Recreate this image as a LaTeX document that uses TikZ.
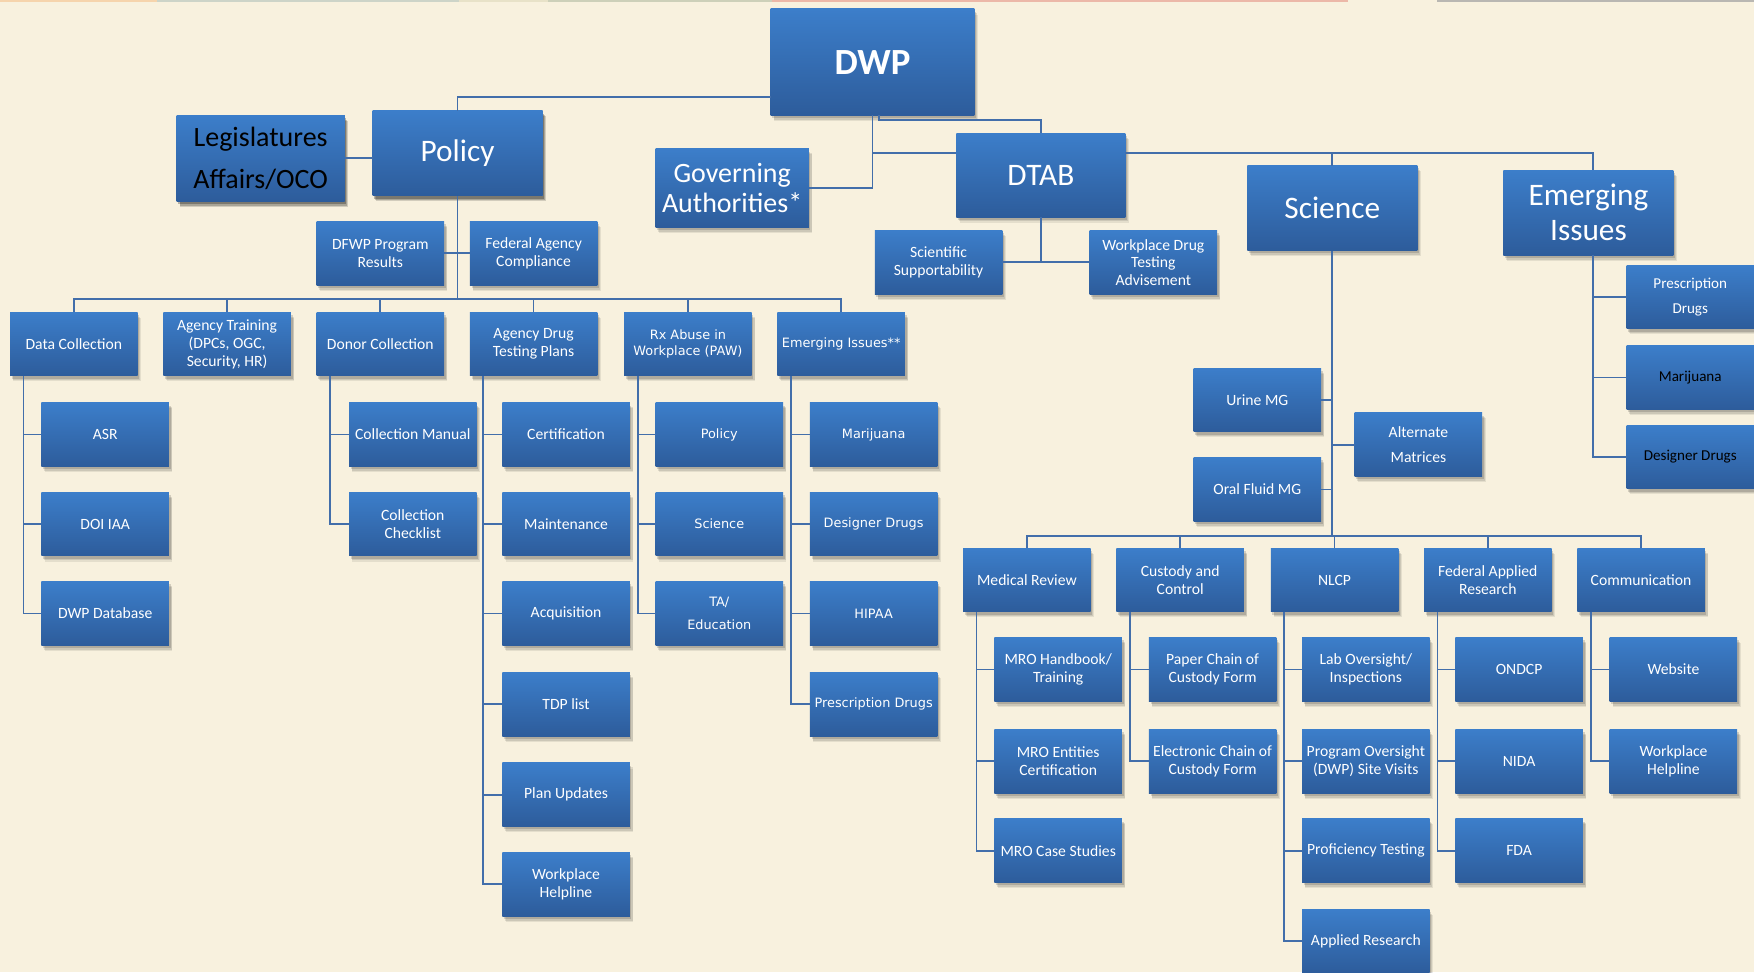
\documentclass[tikz,border=0pt]{standalone}
\usepackage{fontspec}
\setmainfont{Carlito}
\newfontfamily\vfont{DejaVu Sans}
\usetikzlibrary{shadows}
\definecolor{bgc}{RGB}{248,241,222}
\definecolor{btop}{RGB}{60,126,202}
\definecolor{bbot}{RGB}{45,92,155}
\definecolor{bflat}{RGB}{74,126,187}
\definecolor{lnc}{RGB}{66,110,170}
\definecolor{sa}{RGB}{246,212,172}
\definecolor{sb}{RGB}{205,212,200}
\definecolor{sc}{RGB}{232,226,200}
\definecolor{sd}{RGB}{205,208,185}
\definecolor{se}{RGB}{236,184,168}
\definecolor{sf}{RGB}{185,183,178}
\tikzset{
  basebox/.style={inner sep=0pt, outer sep=0pt, text=white, align=center,
    font=\fontsize{14}{16}\selectfont,
    drop shadow={shadow xshift=3pt, shadow yshift=-5pt, opacity=0.08, fill=black},
    drop shadow={shadow xshift=2.5pt, shadow yshift=-4pt, opacity=0.10, fill=black},
    drop shadow={shadow xshift=1.5pt, shadow yshift=-2.5pt, opacity=0.14, fill=black}},
  gbox/.style={basebox, top color=btop, bottom color=bbot},
  fbox/.style={basebox, fill=bflat},
  vtxt/.style={font=\vfont\fontsize{11.5}{15}\selectfont},
  big/.style={font=\fontsize{28}{31}\selectfont},
  conn/.style={draw=lnc, line width=1.6pt}
}
% [opts]{name}{x}{y}{w}{h}{text}
\newcommand\bx[7][]{\node[gbox,minimum width=#5pt,minimum height=#6pt,#1] (#2) at ({#3+#5/2},{#4+#6/2}) {#7};}
% small box 114x57
\newcommand\sbx[5][]{\bx[#1]{#2}{#3}{#4}{114}{57}{#5}}
\begin{document}
\begin{tikzpicture}[x=1pt,y=-1pt]
\fill[bgc] (0,0) rectangle (1568,869);
\useasboundingbox (0,0) rectangle (1568,869);
% faint top strip
\fill[sa] (0,0) rectangle (140,1.5);
\fill[sb] (140,0) rectangle (410,1.5);
\fill[sc] (410,0) rectangle (490,1.5);
\fill[sd] (490,0) rectangle (690,1.5);
\fill[se] (690,0) rectangle (1205,1.5);
\fill[sf] (1285,0) rectangle (1568,1.5);

% top level
\bx[font=\bfseries\fontsize{33}{36}\selectfont]{dwp}{689}{8}{182}{95}{DWP}
\bx[fbox,text=black,font=\fontsize{25}{38}\selectfont]{leg}{158}{103}{150}{77}{Legislatures\\Affairs/OCO}
\bx[fbox,big]{pol}{333}{99}{152}{76}{Policy}
\bx[font=\fontsize{25}{27}\selectfont]{gov}{586}{133}{137}{70}{Governing\\Authorities*}
\bx[big]{dtab}{855}{119}{151}{75}{DTAB}
\bx[big]{sci}{1115}{148}{152}{76}{Science}
\bx[big]{emi}{1344}{152}{152}{76}{Emerging\\Issues}

% second level
\sbx{dfwp}{283}{198}{DFWP Program\\Results}
\sbx{fac}{420}{198}{Federal Agency\\Compliance}
\sbx{ssup}{782}{206}{Scientific\\Supportability}
\sbx[font=\fontsize{14}{15.5}\selectfont]{wdta}{974}{206}{Workplace Drug\\Testing\\Advisement}

% policy row
\sbx{dc}{9}{279}{Data Collection}
\sbx{at}{146}{279}{Agency Training\\(DPCs, OGC,\\Security, HR)}
\sbx{donor}{283}{279}{Donor Collection}
\sbx{adtp}{420}{279}{Agency Drug\\Testing Plans}
\sbx[vtxt]{rx}{558}{279}{Rx Abuse in\\Workplace (PAW)}
\sbx[vtxt]{eiss}{695}{279}{Emerging Issues**}

% policy children
\sbx{asr}{37}{360}{ASR}
\sbx{doi}{37}{440}{DOI IAA}
\sbx{dwpdb}{37}{520}{DWP Database}
\sbx{cman}{312}{360}{Collection Manual}
\sbx{cchk}{312}{440}{Collection\\Checklist}
\sbx{cert}{449}{360}{Certification}
\sbx{maint}{449}{440}{Maintenance}
\sbx{acq}{449}{520}{Acquisition}
\sbx{tdp}{449}{601}{TDP list}
\sbx{plan}{449}{682}{Plan Updates}
\sbx{wph}{449}{762}{Workplace\\Helpline}
\sbx[vtxt]{rpol}{586}{360}{Policy}
\sbx[vtxt]{rsci}{586}{440}{Science}
\sbx[vtxt,font=\vfont\fontsize{11.5}{21}\selectfont]{rta}{586}{520}{TA/\\Education}
\sbx[vtxt]{mar}{724}{360}{Marijuana}
\sbx[vtxt]{dd}{724}{440}{Designer Drugs}
\sbx[vtxt]{hip}{724}{520}{HIPAA}
\sbx[vtxt]{pd}{724}{601}{Prescription Drugs}

% science
\sbx{urine}{1067}{329}{Urine MG}
\sbx{oral}{1067}{409}{Oral Fluid MG}
\sbx[font=\fontsize{14}{22}\selectfont]{alt}{1211}{369}{Alternate\\Matrices}

\sbx{med}{861}{490}{Medical Review}
\sbx{cust}{998}{490}{Custody and\\Control}
\sbx{nlcp}{1136}{490}{NLCP}
\sbx{far}{1273}{490}{Federal Applied\\Research}
\sbx{comm}{1410}{490}{Communication}

\sbx{mroh}{889}{570}{MRO Handbook/\\Training}
\sbx{mroe}{889}{652}{MRO Entities\\Certification}
\sbx{mroc}{889}{732}{MRO Case Studies}
\sbx{paper}{1027}{570}{Paper Chain of\\Custody Form}
\sbx{elec}{1027}{652}{Electronic Chain of\\Custody Form}
\sbx{lab}{1164}{570}{Lab Oversight/\\Inspections}
\sbx{prog}{1164}{652}{Program Oversight\\(DWP) Site Visits}
\sbx{prof}{1164}{732}{Proficiency Testing}
\sbx{appl}{1164}{813}{Applied Research}
\sbx{ondcp}{1301}{570}{ONDCP}
\sbx{nida}{1301}{652}{NIDA}
\sbx{fda}{1301}{732}{FDA}
\sbx{web}{1439}{570}{Website}
\sbx{wph2}{1439}{652}{Workplace\\Helpline}

% emerging issues children
\sbx[font=\fontsize{13.5}{22}\selectfont]{epd}{1454}{237}{Prescription\\Drugs}
\sbx[text=black,font=\fontsize{13.5}{16}\selectfont]{emar}{1454}{309}{Marijuana}
\sbx[text=black,font=\fontsize{13.5}{16}\selectfont]{edd}{1454}{380}{Designer Drugs}

% ---------- connectors ----------
\draw[conn] (dwp.west) ++(0,31.5) -| (pol.north);
\draw[conn] (leg.east) -- (leg.east -| pol.west);
\draw[conn] (pol.south) -- (pol.south |- 0,267);
\draw[conn] (dfwp.east) -- (fac.west);
\draw[conn] (dc.north) -- ++(0,-12) -| (eiss.north);
\foreach \n in {at,donor,adtp,rx} \draw[conn] (\n.north) -- ++(0,-12);

\draw[conn] (dwp.south) |- (gov.east);
\draw[conn] (dwp.south) |- ([yshift=20pt]dtab.west);
\draw[conn] ([xshift=6pt]dwp.south) -- ++(0,4) -| (dtab.north);
\draw[conn] (dtab.south) |- (ssup.east);
\draw[conn] (dtab.south) |- (wdta.west);
\draw[conn] ([yshift=20pt]dtab.east) -| (sci.north);
\draw[conn] ([yshift=20pt]dtab.east) -| ([xshift=4pt]emi.north);

% policy sub-columns
\foreach \c in {asr,doi,dwpdb} \draw[conn] (dc.south west) ++(12,0) |- (\c.west);
\foreach \c in {cman,cchk} \draw[conn] (donor.south west) ++(12,0) |- (\c.west);
\foreach \c in {cert,maint,acq,tdp,plan,wph} \draw[conn] (adtp.south west) ++(12,0) |- (\c.west);
\foreach \c in {rpol,rsci,rta} \draw[conn] (rx.south west) ++(12,0) |- (\c.west);
\foreach \c in {mar,dd,hip,pd} \draw[conn] (eiss.south west) ++(12,0) |- (\c.west);

% science
\draw[conn] (sci.south) -- (sci.south |- 0,479);
\draw[conn] (urine.east) -- (urine.east -| sci.south);
\draw[conn] (oral.east) -- (oral.east -| sci.south);
\draw[conn] (alt.west) -- (alt.west -| sci.south);
\draw[conn] (med.north) -- ++(0,-11) -| (comm.north);
\foreach \n in {cust,nlcp,far} \draw[conn] (\n.north) -- ++(0,-11);
\foreach \c in {mroh,mroe,mroc} \draw[conn] (med.south west) ++(12,0) |- (\c.west);
\foreach \c in {paper,elec} \draw[conn] (cust.south west) ++(12,0) |- (\c.west);
\foreach \c in {lab,prog,prof,appl} \draw[conn] (nlcp.south west) ++(12,0) |- (\c.west);
\foreach \c in {ondcp,nida,fda} \draw[conn] (far.south west) ++(12,0) |- (\c.west);
\foreach \c in {web,wph2} \draw[conn] (comm.south west) ++(12,0) |- (\c.west);

% emerging issues
\foreach \c in {epd,emar,edd} \draw[conn] ([xshift=4pt]emi.south) |- (\c.west);
\end{tikzpicture}
\end{document}
